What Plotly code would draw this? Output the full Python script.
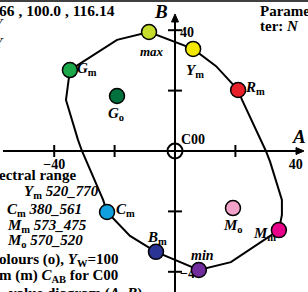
import plotly.graph_objects as go

W, H = 308, 292
S = 3.02          # pixels per unit
OX, OY = 175, 151 # pixel position of C00

# ---- data (A, B) ----
curve_A = [-34.8, -19.2, -8.6, 6.0, 13.6, 20.9, 22.2, 30.1, 31.5, 35.4, 35.4, 34.4,
           18.5, 7.9, -6.3, -14.9, -22.5, -23.8, -30.8, -32.1, -36.1, -34.8]
curve_B = [26.8, 36.8, 39.4, 33.8, 28.1, 20.2, 16.9, 0.0, -3.6, -16.2, -21.2, -26.2,
           -36.8, -39.4, -33.4, -28.1, -20.2, -16.2, 0.0, 3.6, 16.9, 26.8]

point_names = ["Gm", "max", "Ym", "Rm", "Go", "Cm", "Bm", "min", "Mm", "Mo"]
point_A = [-34.8, -8.6, 6.0, 20.9, -19.2, -22.5, -6.3, 7.9, 34.4, 19.2]
point_B = [26.8, 39.4, 33.8, 20.2, 18.2, -20.2, -33.4, -39.4, -26.2, -18.9]
point_colors = ["#1aa84a", "#c6dc2c", "#f2e800", "#e8202a", "#00703c",
                "#10a0e0", "#2a3494", "#702c9c", "#e8008a", "#f2a2c8"]

a_ticks = [-40, -20, 20]
b_ticks = [40, 20, -20, -40]
a_tick_labels = {-40: "\u221240", 40: "40"}
b_tick_labels = {40: "40", -40: "\u221240"}

FONT = "Liberation Serif"

def dx(px):
    return (px - OX) / S

def dy(py):
    return (OY - py) / S

fig = go.Figure()

# curve
fig.add_trace(go.Scatter(x=curve_A, y=curve_B, mode="lines",
                         line=dict(color="black", width=2), hoverinfo="skip"))

# tick labels (drawn under markers)
fig.add_trace(go.Scatter(x=[k for k in a_tick_labels], y=[dy(165)] * len(a_tick_labels),
                         mode="text", text=[f"<b>{v}</b>" for v in a_tick_labels.values()],
                         textfont=dict(family=FONT, size=14, color="black"),
                         textposition="middle center", hoverinfo="skip"))
fig.add_trace(go.Scatter(x=[dx(180)] * len(b_tick_labels), y=[k - 1 for k in b_tick_labels],
                         mode="text", text=[f"<b>{v}</b>" for v in b_tick_labels.values()],
                         textfont=dict(family=FONT, size=14, color="black"),
                         textposition="middle right", hoverinfo="skip"))

# C00 ring
fig.add_trace(go.Scatter(x=[0], y=[0], mode="markers",
                         marker=dict(symbol="circle-open", size=15, color="black",
                                     line=dict(width=2)), hoverinfo="skip"))

# colour points
fig.add_trace(go.Scatter(x=point_A, y=point_B, mode="markers",
                         marker=dict(size=15, color=point_colors,
                                     line=dict(color="black", width=1.5)),
                         hoverinfo="skip"))

shapes = []
# top border
shapes.append(dict(type="line", xref="paper", yref="paper", x0=0, x1=1,
                   y0=1 - 1 / H, y1=1 - 1 / H, line=dict(color="black", width=1.5)))
# A axis
shapes.append(dict(type="line", x0=dx(3), x1=dx(298), y0=0, y1=0,
                   line=dict(color="black", width=2)))
shapes.append(dict(type="path",
                   path=f"M {dx(296)} {dy(147.5)} L {dx(304)} 0 L {dx(296)} {dy(154.5)} Z",
                   fillcolor="black", line=dict(color="black", width=1)))
# B axis
shapes.append(dict(type="line", x0=0, x1=0, y0=dy(292), y1=dy(20),
                   line=dict(color="black", width=2)))
shapes.append(dict(type="path",
                   path=f"M {dx(171.5)} {dy(22)} L 0 {dy(14)} L {dx(178.5)} {dy(22)} Z",
                   fillcolor="black", line=dict(color="black", width=1)))
for t in a_ticks:
    shapes.append(dict(type="line", x0=t, x1=t, y0=dy(145), y1=dy(157),
                       line=dict(color="black", width=2)))
for t in b_ticks:
    shapes.append(dict(type="line", x0=dx(168), x1=dx(182), y0=t, y1=t,
                       line=dict(color="black", width=2)))

def ann(px, py, text, size=14, anchor="center"):
    return dict(xref="paper", yref="paper", x=px / W, y=1 - py / H, text=text,
                showarrow=False, xanchor=anchor, yanchor="middle",
                font=dict(family=FONT, size=size, color="black"))

anns = [
    # axis names
    ann(161, 11, "<b><i>B</i></b>", 19),
    ann(299, 136, "<b><i>A</i></b>", 19),
    ann(179, 140, "<b>C00</b>", 14, "left"),
    # point labels
    ann(75, 69, "<b><i>G</i><sub>m</sub></b>", 15, "left"),
    ann(152, 51, "<b><i>max</i></b>", 13),
    ann(195, 71, "<b><i>Y</i><sub>m</sub></b>", 15),
    ann(243, 88, "<b><i>R</i><sub>m</sub></b>", 15, "left"),
    ann(116, 114, "<b><i>G</i><sub>o</sub></b>", 15),
    ann(114, 210, "<b><i>C</i><sub>m</sub></b>", 15, "left"),
    ann(157, 238, "<b><i>B</i><sub>m</sub></b>", 15),
    ann(202, 255, "<b><i>min</i></b>", 14),
    ann(264, 234, "<b><i>M</i><sub>m</sub></b>", 15),
    ann(233, 226, "<b><i>M</i><sub>o</sub></b>", 15),
    # header texts
    ann(-3, 10, "<b>66 , 100.0 , 116.14</b>", 15.5, "left"),
    ann(6, 24, "<i>Y</i>", 15, "right"),
    ann(6, 43, "<i>Y</i>", 15, "right"),
    ann(258, 11, "<b>Parame</b>", 15, "left"),
    ann(258, 26, "<b>ter: <i>N</i></b>", 15, "left"),
    # legend texts
    ann(-3, 175, "<b>ectral range</b>", 15, "left"),
    ann(22, 192, "<b><i>Y</i><sub>m</sub> <i>520_770</i></b>", 15, "left"),
    ann(5, 210, "<b><i>C</i><sub>m</sub> <i>380_561</i></b>", 15, "left"),
    ann(5, 226, "<b><i>M</i><sub>m</sub> <i>573_475</i></b>", 15, "left"),
    ann(5, 241, "<b><i>M</i><sub>o</sub> <i>570_520</i></b>", 15, "left"),
    ann(-3, 260, "<b>olours (o), <i>Y</i><sub>W</sub>=100</b>", 15, "left"),
    ann(-3, 276, "<b>m (m) <i>C</i><sub>AB</sub> for C00</b>", 15, "left"),
    ann(7, 293, "<b>value diagram (<i>A, B</i>)</b>", 15, "left"),
]

fig.update_layout(
    width=W, height=H, autosize=False,
    margin=dict(l=0, r=0, t=0, b=0, pad=0),
    paper_bgcolor="white", plot_bgcolor="white",
    showlegend=False,
    xaxis=dict(range=[dx(0), dx(W)], visible=False, fixedrange=True),
    yaxis=dict(range=[dy(H), dy(0)], visible=False, fixedrange=True),
    shapes=shapes, annotations=anns,
)

fig.write_html("out.html", config={"displayModeBar": False},
               post_script="document.body.style.margin='0px';document.body.style.overflow='hidden';")
